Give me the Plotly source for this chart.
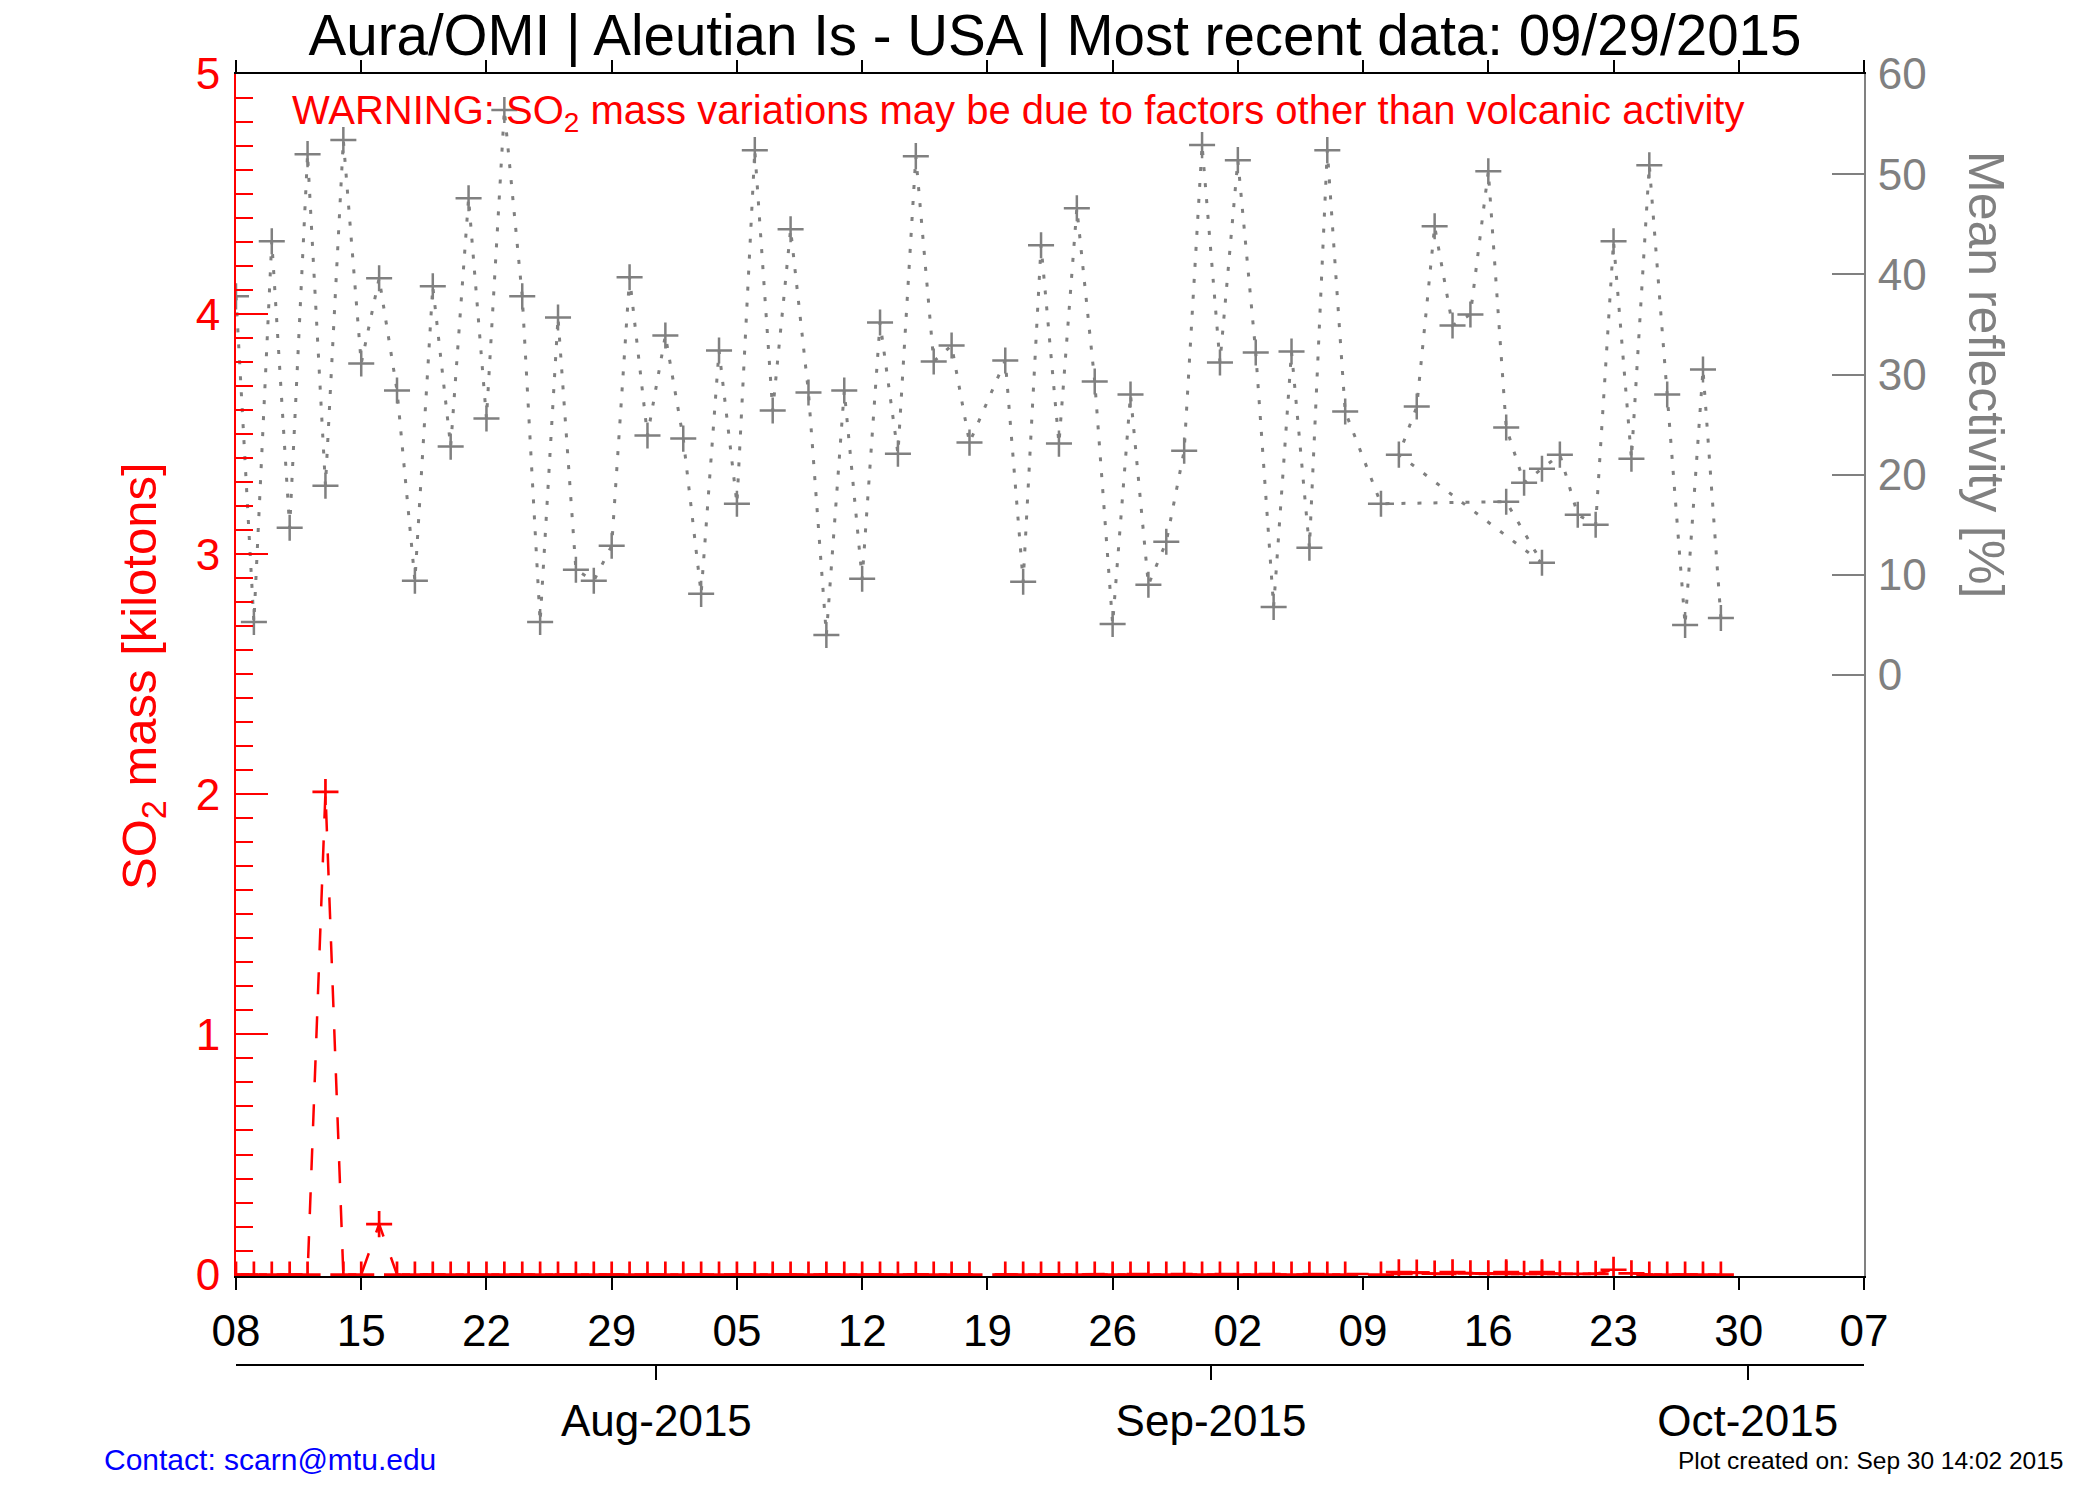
import plotly.graph_objects as go

# OMI daily values, in the order they come in the data file
dates = [
    "2015-07-08", "2015-07-09", "2015-07-10", "2015-07-11", "2015-07-12", "2015-07-13",
    "2015-07-14", "2015-07-15", "2015-07-16", "2015-07-17", "2015-07-18", "2015-07-19",
    "2015-07-20", "2015-07-21", "2015-07-22", "2015-07-23", "2015-07-24", "2015-07-25",
    "2015-07-26", "2015-07-27", "2015-07-28", "2015-07-29", "2015-07-30", "2015-07-31",
    "2015-08-01", "2015-08-02", "2015-08-03", "2015-08-04", "2015-08-05", "2015-08-06",
    "2015-08-07", "2015-08-08", "2015-08-09", "2015-08-10", "2015-08-11", "2015-08-12",
    "2015-08-13", "2015-08-14", "2015-08-15", "2015-08-16", "2015-08-17", "2015-08-18",
    "2015-08-20", "2015-08-21", "2015-08-22", "2015-08-23", "2015-08-24", "2015-08-25",
    "2015-08-26", "2015-08-27", "2015-08-28", "2015-08-29", "2015-08-30", "2015-08-31",
    "2015-09-01", "2015-09-02", "2015-09-03", "2015-09-04", "2015-09-05", "2015-09-06",
    "2015-09-07", "2015-09-08", "2015-09-10", "2015-09-17", "2015-09-19", "2015-09-11",
    "2015-09-12", "2015-09-13", "2015-09-14", "2015-09-15", "2015-09-16", "2015-09-17",
    "2015-09-18", "2015-09-19", "2015-09-20", "2015-09-21", "2015-09-22", "2015-09-23",
    "2015-09-24", "2015-09-25", "2015-09-26", "2015-09-27", "2015-09-28", "2015-09-29",
]

so2_mass = [
    0, 0, 0, 0, 0, 2.01,
    0, 0, 0.21, 0, 0, 0,
    0, 0, 0, 0, 0, 0,
    0, 0, 0, 0, 0, 0,
    0, 0, 0, 0, 0, 0,
    0, 0, 0, 0, 0, 0,
    0, 0, 0, 0, 0, 0,
    0, 0, 0, 0, 0, 0,
    0, 0, 0, 0, 0, 0,
    0, 0, 0, 0, 0, 0,
    0, 0, 0, 0.003, 0.003, 0.01,
    0.008, 0.004, 0.01, 0.005, 0.005, 0.01,
    0.003, 0.01, 0.003, 0.003, 0.003, 0.02,
    0.005, 0, 0, 0, 0, 0,
]

reflectivity = [
    37.8, 5.3, 43.3, 14.7, 52.0, 18.9,
    53.4, 31.1, 39.6, 28.4, 9.4, 38.8,
    22.8, 47.6, 25.6, 56.4, 37.8, 5.3,
    35.7, 10.5, 9.4, 12.9, 39.7, 23.9,
    33.9, 23.6, 8.1, 32.4, 17.1, 52.4,
    26.4, 44.5, 28.2, 4.0, 28.4, 9.6,
    35.2, 22.1, 51.8, 31.3, 32.9, 23.2,
    31.4, 9.3, 42.9, 23.1, 46.6, 29.3,
    5.1, 28.0, 9.0, 13.3, 22.4, 52.9,
    31.2, 51.4, 32.2, 6.8, 32.3, 12.7,
    52.4, 26.3, 17.1, 17.3, 11.2, 22.0,
    26.8, 44.8, 34.9, 36.0, 50.3, 24.7,
    19.2, 20.6, 22.0, 16.0, 15.0, 43.3,
    21.6, 50.9, 28.0, 5.0, 30.5, 5.7,
]

title = "Aura/OMI | Aleutian Is - USA | Most recent data: 09/29/2015"
warning = "WARNING: SO<sub>2</sub> mass variations may be due to factors other than volcanic activity"

FONT = "Liberation Sans, Arial, Helvetica, sans-serif"
GRAY = "#808080"

W, H = 2100, 1500
# the page body adds an 8px margin, so the figure is pulled back by that much
ml, mr, mt, mb = 228, 244, 66, 143


# convert page pixel positions into paper coordinates
def px_x(x):
    return (x - 8 - ml) / (W - ml - mr)


def px_y(y):
    return (H - mb - (y - 8)) / (H - mt - mb)


# observations are stamped at noon (julian day convention)
x_obs = [d + " 12:00" for d in dates]

fig = go.Figure()

fig.add_trace(go.Scatter(
    x=x_obs, y=reflectivity, yaxis="y2", mode="lines+markers",
    line=dict(color=GRAY, width=3, dash="4px,12px"),
    marker=dict(symbol="cross-thin", size=18.6, line=dict(color=GRAY, width=2.5)),
    showlegend=False,
))

fig.add_trace(go.Scatter(
    x=x_obs, y=so2_mass, mode="lines+markers",
    line=dict(color="red", width=2.5, dash="22px,22px"),
    marker=dict(symbol="cross-thin", size=18.6, line=dict(color="red", width=2.7)),
    showlegend=False,
))

# dummy trace so the month axis gets drawn
fig.add_trace(go.Scatter(x=[x_obs[0]], y=[None], xaxis="x2", showlegend=False, hoverinfo="skip"))

x_range = ["2015-07-08 12:00", "2015-10-07 12:00"]
y_bottom = px_y(1276)

fig.update_layout(
    width=W, height=H,
    margin=dict(l=ml, r=mr, t=mt, b=mb),
    paper_bgcolor="white", plot_bgcolor="white",
    font=dict(family=FONT, color="black"),
    title=dict(text=title, x=(1055 - 8) / W, xanchor="center", y=1 - (35 - 8) / H, yanchor="middle",
               font=dict(size=56.5, color="black", family=FONT)),
    xaxis=dict(
        type="date", range=x_range, tick0="2015-07-08 12:00", dtick=7 * 86400000,
        tickformat="%d", ticks="outside", ticklen=12, tickwidth=2, tickcolor="black",
        showline=True, linecolor="black", linewidth=2, mirror="ticks",
        showgrid=False, zeroline=False, layer="below traces",
        tickfont=dict(size=44, color="black"), ticklabelstandoff=3,
    ),
    xaxis2=dict(
        type="date", range=x_range, overlaying="x", anchor="free", position=0,
        tick0="2015-08-01", dtick="M1", tickformat="%b-%Y",
        ticks="outside", ticklen=14, tickwidth=2, tickcolor="black",
        showline=True, linecolor="black", linewidth=2, showgrid=False, zeroline=False,
        tickfont=dict(size=44, color="black"), ticklabelstandoff=3,
    ),
    yaxis=dict(
        domain=[y_bottom, 1], range=[-0.006, 5],
        tickvals=[0, 1, 2, 3, 4, 5], ticks="inside", ticklen=32, tickwidth=2, tickcolor="red",
        minor=dict(dtick=0.1, ticks="inside", ticklen=17, tickwidth=2, tickcolor="red"),
        showline=True, linecolor="red", linewidth=2, showgrid=False, zeroline=False,
        tickfont=dict(size=44, color="red"), ticklabelstandoff=5,
    ),
    yaxis2=dict(
        overlaying="y", side="right", range=[-60, 60],
        tickvals=[0, 10, 20, 30, 40, 50, 60], ticks="inside", ticklen=32, tickwidth=2,
        tickcolor=GRAY, showline=True, linecolor=GRAY, linewidth=2,
        showgrid=False, zeroline=False,
        tickfont=dict(size=44, color=GRAY), ticklabelstandoff=3,
    ),
)

fig.add_annotation(text=warning, xref="paper", yref="paper", x=px_x(290), y=px_y(113),
                   xanchor="left", yanchor="middle", showarrow=False,
                   font=dict(size=40, color="red", family=FONT))

fig.add_annotation(text="SO<sub>2</sub> mass [kilotons]", xref="paper", yref="paper",
                   x=px_x(142), y=px_y(676), textangle=-90, showarrow=False,
                   xanchor="center", yanchor="middle",
                   font=dict(size=49, color="red", family=FONT))

fig.add_annotation(text="Mean reflectivity [%]", xref="paper", yref="paper",
                   x=px_x(1986), y=px_y(374), textangle=90, showarrow=False,
                   xanchor="center", yanchor="middle",
                   font=dict(size=50, color=GRAY, family=FONT))

fig.add_annotation(text="Contact: scarn@mtu.edu", xref="paper", yref="paper",
                   x=px_x(102), y=px_y(1459), xanchor="left", yanchor="middle", showarrow=False,
                   font=dict(size=30, color="blue", family=FONT))

fig.add_annotation(text="Plot created on: Sep 30 14:02 2015", xref="paper", yref="paper",
                   x=px_x(2066), y=px_y(1460), xanchor="right", yanchor="middle", showarrow=False,
                   font=dict(size=24.5, color="black", family=FONT))

fig.write_html("out.html")
